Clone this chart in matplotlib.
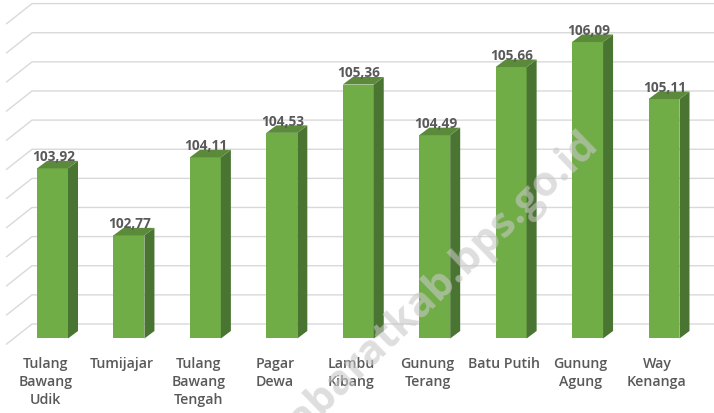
import numpy as np
import matplotlib
matplotlib.use('Agg')
import matplotlib.pyplot as plt
from matplotlib.patches import Polygon

# chart data
categories = ['Tulang\nBawang\nUdik', 'Tumijajar', 'Tulang\nBawang\nTengah',
              'Pagar\nDewa', 'Lambu\nKibang', 'Gunung\nTerang', 'Batu Putih',
              'Gunung\nAgung', 'Way\nKenanga']
values = [103.92, 102.77, 104.11, 104.53, 105.36, 104.49, 105.66, 106.09, 105.11]
grid_ticks = np.arange(101.0, 106.51, 0.5)

# styling
base = 101.0
bar_w = 0.405
dx, dy = 0.131, 0.129          # bar depth
wall_dy = 0.249                # back wall shift
c_front, c_top, c_side = '#70ad47', '#5b8b3a', '#4a7431'
txt_color = '#595959'
font = 'Open Sans'

fig = plt.figure(figsize=(7.14, 4.14), dpi=100)
ax = fig.add_axes([0, 0, 1, 1])
ax.set_xlim(-0.687, 8.654)
ax.set_ylim(99.721, 106.828)
ax.axis('off')

# back wall gridlines with the side wall diagonal
for g in grid_ticks:
    ax.plot([-0.608, -0.268, 9.0], [g - 0.103, g + wall_dy, g + wall_dy],
            color='#d9d9d9', lw=1.0, zorder=1, solid_capstyle='butt')

# 3d looking bars
for i, v in enumerate(values):
    x0, x1 = i - bar_w / 2, i + bar_w / 2
    front = Polygon([(x0, base), (x1, base), (x1, v), (x0, v)],
                    closed=True, fc=c_front, ec='none', zorder=3)
    side = Polygon([(x1, base), (x1 + dx, base + dy), (x1 + dx, v + dy), (x1, v)],
                   closed=True, fc=c_side, ec='none', zorder=3)
    top = Polygon([(x0, v), (x1, v), (x1 + dx, v + dy), (x0 + dx, v + dy)],
                  closed=True, fc=c_top, ec='none', zorder=3)
    for p in (front, side, top):
        ax.add_patch(p)

    label = ('%.2f' % v).replace('.', ',')
    ax.text(i + 0.01, v + dy + 0.01, label, ha='center', va='baseline',
            fontsize=9.8, fontweight='bold', color=txt_color,
            family=font, zorder=5)

    ax.text(i - 0.092, 100.70, categories[i], ha='center', va='top',
            fontsize=10.2, fontweight='semibold', color=txt_color,
            family=font, linespacing=1.35, zorder=5)

# watermark (display pixels, origin bottom left)
ax.text(600, 267, 'tubabaratkab.bps.go.id', transform=None,
        ha='right', va='baseline', rotation=44, rotation_mode='anchor',
        fontsize=30, fontweight='bold', color='#c8c8c8', alpha=0.6,
        family=font, zorder=6)

fig.savefig('out.png', dpi=100, facecolor='white')
